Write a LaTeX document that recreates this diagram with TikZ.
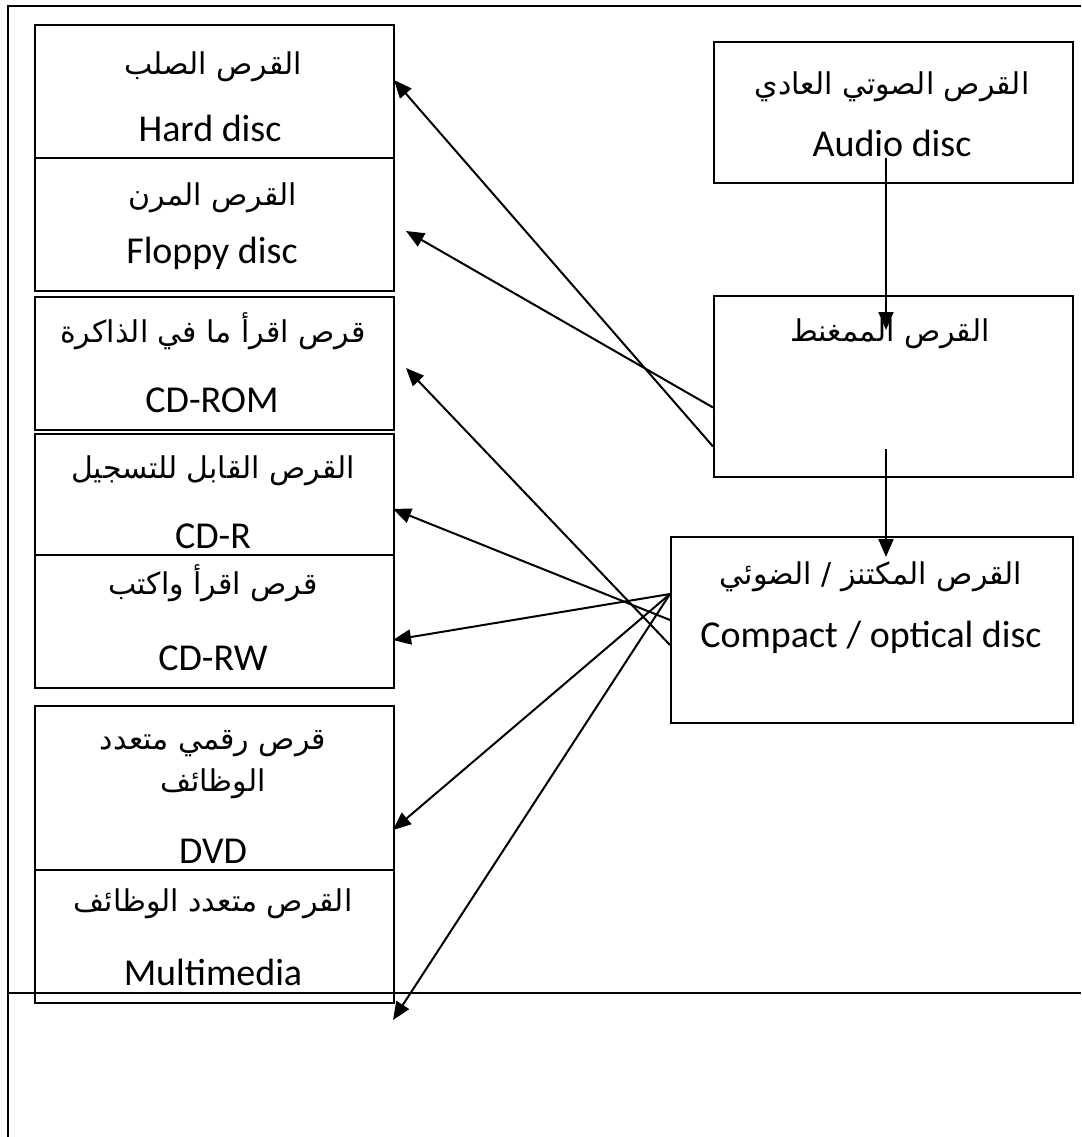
\documentclass[tikz,border=0pt]{standalone}
\usepackage{fontspec}
\setmainfont{Carlito}
\newfontfamily\arabicfont[Script=Arabic]{DejaVu Sans}
\TeXXeTstate=1
\usetikzlibrary{arrows.meta,calc}
\tikzset{
  disc/.style={draw, line width=2pt, inner sep=0pt, anchor=north west},
  latin/.style={anchor=base, inner sep=0pt, font=\fontsize{38}{45}\selectfont},
  arab/.style={anchor=base, inner sep=0pt, font=\fontsize{30}{36}\selectfont\arabicfont},
  link/.style={line width=2pt, -{Triangle[length=18pt,width=15pt]}}
}
\newcommand\rl[1]{\beginR #1\endR}
\begin{document}
\begin{tikzpicture}[x=1pt,y=-1pt]
\useasboundingbox (0,0) rectangle (1081,1137);
\draw[line width=2pt] (8,1137) -- (8,6) -- (1081,6);
\draw[line width=2pt] (8,993) -- (1081,993);
% left column
\node[disc, minimum width=359pt, minimum height=133pt] (hard) at (34,24) {};
\node[disc, minimum width=359pt, minimum height=133pt] (floppy) at (34,157) {};
\node[disc, minimum width=359pt, minimum height=133pt] (cdrom) at (34,296) {};
\node[disc, minimum width=359pt, minimum height=121pt] (cdr) at (34,433) {};
\node[disc, minimum width=359pt, minimum height=133pt] (cdrw) at (34,554) {};
\node[disc, minimum width=359pt, minimum height=164pt] (dvd) at (34,705) {};
\node[disc, minimum width=359pt, minimum height=133pt] (multi) at (34,869) {};
\node[arab] (hardA) at (213,75) {\rl{القرص الصلب}};
\node[latin] (hardL) at (210,142) {Hard disc};
\node[arab] (floppyA) at (213,205) {\rl{القرص المرن}};
\node[latin] (floppyL) at (212,263) {Floppy disc};
\node[arab] (cdromA) at (213,342) {\rl{قرص اقرأ ما في الذاكرة}};
\node[latin] (cdromL) at (212,412) {CD-ROM};
\node[arab] (cdrA) at (213,478) {\rl{القرص القابل للتسجيل}};
\node[latin] (cdrL) at (213,548) {CD-R};
\node[arab] (cdrwA) at (213,594) {\rl{قرص اقرأ واكتب}};
\node[latin] (cdrwL) at (213,670) {CD-RW};
\node[arab] (dvdA) at (213,749) {\rl{قرص رقمي متعدد}};
\node[arab] (dvdB) at (213,791) {\rl{الوظائف}};
\node[latin] (dvdL) at (213,863) {DVD};
\node[arab] (multiA) at (213,911) {\rl{القرص متعدد الوظائف}};
\node[latin] (multiL) at (213,985) {Multimedia};
% right column
\node[disc, minimum width=359pt, minimum height=141pt] (audio) at (713,41) {};
\node[disc, minimum width=359pt, minimum height=181pt] (magnetic) at (713,295) {};
\node[disc, minimum width=402pt, minimum height=186pt] (compact) at (670,536) {};
\node[arab] (audioA) at (892,95) {\rl{القرص الصوتي العادي}};
\node[latin] (audioL) at (892,157) {Audio disc};
\node[arab] (magneticA) at (890,341) {\rl{القرص الممغنط}};
\node[arab] (compactA) at (871,584) {\rl{القرص المكتنز / الضوئي}};
\node[latin] (compactL) at (871,647) {Compact / optical disc};
% arrows
\coordinate (audioOut) at (886,158);
\coordinate (magneticIn) at (886,330);
\coordinate (magneticOut) at (886,449);
\coordinate (compactIn) at (886,557);
\coordinate (toHard) at (394,80);
\coordinate (toFloppy) at (406,231);
\coordinate (toRom) at (406,368);
\coordinate (toR) at (393,509);
\coordinate (toRW) at (393,640);
\coordinate (toDVD) at (393,830);
\coordinate (toMulti) at (393,1020);
\draw[link] (audioOut) -- (magneticIn);
\draw[link] (magneticOut) -- (compactIn);
\draw[link] ($(magnetic.west)+(0,21)$) -- (toFloppy);
\draw[link] ($(magnetic.west)+(0,60)$) -- (toHard);
\draw[link] ($(compact.west)+(0,15)$) -- (toRom);
\draw[link] ($(compact.west)+(0,-10)$) -- (toR);
\draw[link] ($(compact.west)+(0,-36)$) -- (toRW);
\draw[link] ($(compact.west)+(0,-36)$) -- (toDVD);
\draw[link] ($(compact.west)+(0,-36)$) -- (toMulti);
\end{tikzpicture}
\end{document}
